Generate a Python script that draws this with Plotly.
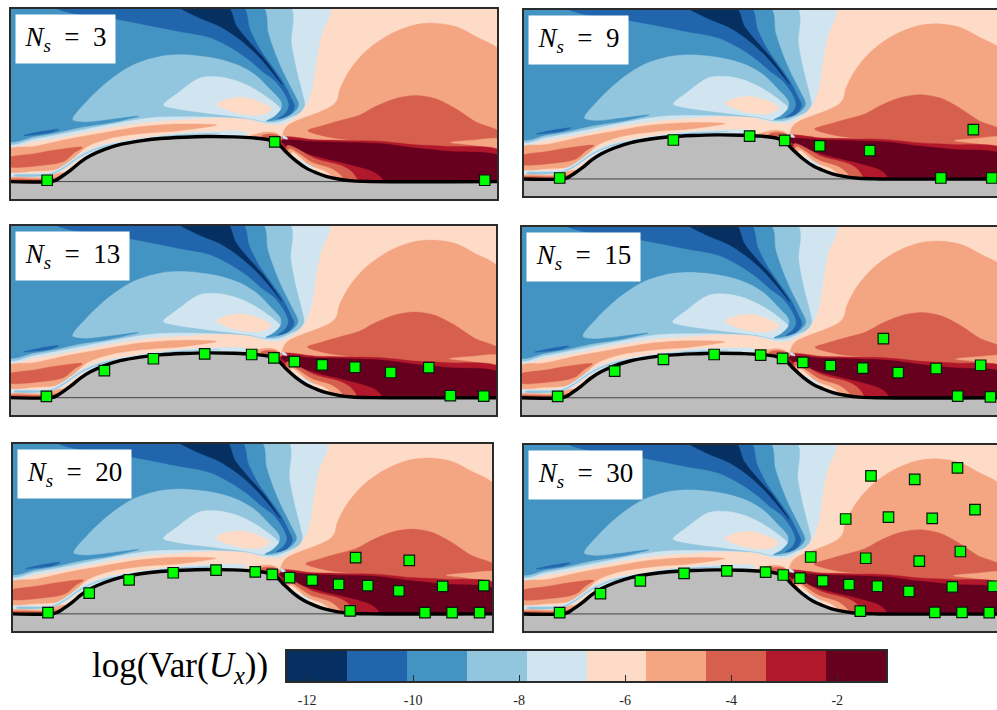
import plotly.graph_objects as go

WIDTH, HEIGHT = 997, 710
RdBu = ["#053061", "#2166ac", "#4393c3", "#92c5de", "#d1e5f0",
        "#fddbc7", "#f4a582", "#d6604d", "#b2182b", "#67001f"]

# iso-contour bands of log(Var(Ux)), painted back to front (stream units)
lvl_m7_outer = [(20,10),(990,10),(965,104),(950,184),(940,254),(925,304),(900,339),(855,369),(830,374),(800,372),(740,356),(650,352),(550,358),(450,365),(330,382),(200,408),(100,425),(20,437)]
lvl_m8_outer = [(20,10),(868,10),(875,125),(890,205),(910,285),(915,315),(900,338),(870,352),(835,365),(795,366),(745,356),(600,349),(450,352),(330,372),(200,398),(100,417),(20,430)]
lvl_m7_inner = [(490,314),(530,280),(600,232),(660,229),(720,244),(770,269),(820,304),(845,329),(840,346),(805,364),(745,354),(600,336),(520,324)]
lvl_m6_inner = [(650,312),(690,294),(740,292),(790,309),(815,326),(795,342),(740,344),(680,329)]
lvl_m9 = [(20,10),(785,10),(805,94),(825,154),(850,214),(880,274),(897,314),(885,334),(850,354),(800,363),(825,348),(845,325),(845,304),(810,264),(770,224),(720,194),(660,174),(600,164),(545,160),(480,165),(400,190),(330,235),(260,300),(215,358),(245,366),(300,362),(415,348),(330,368),(240,382),(170,398),(100,410),(20,422)]
lvl_m10 = [(150,10),(725,10),(750,84),(780,144),(815,194),(850,244),(875,294),(885,319),(870,344),(835,356),(858,338),(868,315),(855,280),(825,240),(790,214),(750,179),(700,144),(630,109),(530,89),(430,69),(340,52),(200,32)]
lvl_m11 = [(530,10),(680,10),(710,74),(750,124),(790,169),(820,209),(848,252),(810,205),(770,160),(720,115),(660,75),(600,50)]
lvl_m10_sliver = [(68,407),(120,395),(175,388),(150,398),(100,405)]
lvl_m5_front = [(20,450),(100,440),(200,418),(300,400),(420,380),(540,372),(650,375),(540,392),(430,400),(330,415),(260,440),(225,470),(190,500),(165,510),(100,515),(20,515)]
lvl_m4_front = [(20,477),(100,462),(170,450),(245,443),(220,460),(190,485),(120,498),(20,500)]
lvl_m7_wall = [(20,525),(100,522),(150,518),(190,497),(240,462),(300,437),(400,418),(520,402),(620,395),(740,398),(740,408),(620,408),(520,414),(400,428),(300,450),(240,476),(190,510),(150,530),(100,532),(20,533)]
lvl_m8_wall = [(40,527),(150,523),(190,503),(240,468),(300,442),(400,422),(520,406),(660,400),(520,409),(400,425),(300,445),(240,471),(190,506),(150,526),(40,530)]
lvl_m5_wake = [(855,388),(870,372),(900,358),(960,335),(1000,315),(1015,295),(1020,270),(1050,210),(1100,150),(1170,100),(1240,72),(1300,65),(1370,75),(1430,105),(1510,158),(1510,480),(850,425)]
lvl_m4_wake = [(925,392),(965,378),(1020,362),(1080,345),(1130,318),(1190,294),(1250,285),(1310,295),(1370,325),(1430,365),(1510,402),(1510,480),(1100,425),(990,412)]
lvl_m5_strip = [(1355,428),(1420,421),(1510,419),(1510,447),(1420,436)]
lvl_m3_wake = [(838,416),(950,420),(1050,422),(1150,425),(1250,435),(1350,440),(1510,456),(1510,560),(1100,560),(900,540)]
lvl_m2_wake = [(845,422),(950,425),(1050,428),(1150,432),(1250,445),(1350,455),(1510,474),(1510,560),(1152,560),(1150,540),(1125,518),(1050,495),(950,470),(860,438)]
lvl_m4_wedge = [(862,438),(950,478),(1030,500),(1060,520),(1078,560),(900,560)]
lvl_m5_wedge = [(868,448),(940,490),(1000,510),(1030,535),(1038,560),(900,560)]
lvl_m6_wedge = [(878,458),(930,498),(975,515),(1000,535),(1005,560),(900,560)]
lvl_m7_wedge = [(885,478),(915,490),(940,505),(900,510)]
lvl_m5_crest = [(745,412),(770,402),(800,396),(830,400),(848,418),(800,425)]
lvl_m4_crest = [(785,408),(810,402),(838,408),(845,420),(800,420)]
lvl_m7_crest = [(848,407),(860,411),(864,418),(850,415)]
lvl_m5_inlet = [(20,537),(120,535),(150,528),(185,520),(200,525),(170,555),(20,555)]
lvl_m4_inlet = [(20,542),(130,540),(165,535),(190,530),(175,548),(20,552)]

bands = [
    (lvl_m7_outer, RdBu[4]), (lvl_m8_outer, RdBu[3]), (lvl_m7_inner, RdBu[4]), (lvl_m6_inner, RdBu[5]),
    (lvl_m9, RdBu[2]), (lvl_m10, RdBu[1]), (lvl_m11, RdBu[0]), (lvl_m10_sliver, RdBu[1]),
    (lvl_m5_front, RdBu[6]), (lvl_m4_front, RdBu[7]), (lvl_m7_wall, RdBu[4]), (lvl_m8_wall, RdBu[3]),
    (lvl_m5_wake, RdBu[6]), (lvl_m4_wake, RdBu[7]), (lvl_m5_strip, RdBu[6]),
    (lvl_m3_wake, RdBu[8]), (lvl_m2_wake, RdBu[9]),
    (lvl_m4_wedge, RdBu[7]), (lvl_m5_wedge, RdBu[6]), (lvl_m6_wedge, RdBu[5]), (lvl_m7_wedge, RdBu[4]),
    (lvl_m5_crest, RdBu[6]), (lvl_m4_crest, RdBu[7]), (lvl_m7_crest, RdBu[4]),
    (lvl_m5_inlet, RdBu[6]), (lvl_m4_inlet, RdBu[7]),
]

# lower wall (hump) profile
wall_x = [30,150,165,185,210,240,270,310,360,420,480,550,620,700,760,810,835,860,890,920,950,980,1020,1060,1120,1500]
wall_y = [547,547,543,530,512,487,468,450,434,423,416,412,410,411,414,421,432,458,485,506,520,531,540,545,547,547]

# sensor locations per panel
sensors_3 = [(139,543),(825,426),(1458,543)]
sensors_9 = [(140,544),(490,426),(725,414),(833,427),(941,444),(1095,459),(1314,544),(1471,544),(1414,394)]
sensors_13 = [(137,543),(312,464),(460,428),(615,413),(757,415),(824,425),(886,437),(970,447),(1069,454),(1177,470),(1292,455),(1357,541),(1458,542)]
sensors_15 = [(139,543),(313,465),(462,429),(617,414),(759,416),(826,426),(888,438),(972,448),(1071,456),(1179,470),(1295,457),(1431,447),(1361,542),(1461,544),(1134,365)]
sensors_20 = [(137,543),(263,483),(385,442),(520,420),(651,412),(771,417),(823,425),(876,435),(945,443),(1026,456),(1115,460),(1210,476),(1344,462),(1470,460),(1061,538),(1290,543),(1373,543),(1457,543),(1078,373),(1242,382)]
sensors_30 = [(140,543),(266,484),(389,444),(524,421),(656,413),(776,417),(830,426),(882,436),(952,444),(1033,456),(1121,461),(1218,477),(1352,463),(1478,461),(1068,538),(1298,542),(1382,542),(1466,543),(915,370),(1085,374),(1250,383),(1377,353),(1023,252),(1155,246),(1290,250),(1422,223),(1101,118),(1236,129),(1368,93),(1496,52)]

panel_labels = ["3", "9", "13", "15", "20", "30"]
panel_sensors = [sensors_3, sensors_9, sensors_13, sensors_15, sensors_20, sensors_30]
# frame pixels: left, right, top, bottom
panel_boxes = [(11,497,9,199),(524,997,10,196),(11,496,226,415),(522,997,227,415),(13,492,444,631),(524,997,445,631)]
panel_xend = [1495,1487,1495,1481,1495,1490]
label_sizes = [(99,48),(99,48),(113,48),(113,48),(113,48),(113,48)]

cbar_edges_lo = -12.38
cbar_edges_hi = -1.08
cbar_centers = [-11.815,-10.685,-9.555,-8.425,-7.295,-6.165,-5.035,-3.905,-2.775,-1.645]
cbar_ticks = [-12,-10,-8,-6,-4,-2]
cbar_ticktext = ["-12","-10","-8","-6","-4","-2"]

FRAME = "#2b2b2b"
SERIF = "Liberation Serif"
fig = go.Figure()
layout = {}
annotations = []

for i,(box,label,sens,xend,lab) in enumerate(zip(panel_boxes,panel_labels,panel_sensors,panel_xend,label_sizes)):
    n = i+1
    xa, ya = f"x{n}", f"y{n}"
    L,R,T,B = box
    layout[f"xaxis{n}"] = dict(domain=[L/WIDTH,R/WIDTH], range=[30,xend], anchor=ya, showgrid=False,
                               zeroline=False, showticklabels=False, ticks="", showline=True, mirror=True,
                               linecolor=FRAME, linewidth=2.3)
    layout[f"yaxis{n}"] = dict(domain=[1-B/HEIGHT,1-T/HEIGHT], range=[600,22], anchor=xa, showgrid=False,
                               zeroline=False, showticklabels=False, ticks="", showline=True,
                               mirror=(i%2==0), linecolor=FRAME, linewidth=2.3)
    for pts,col in bands:
        fig.add_trace(go.Scatter(x=[p[0] for p in pts]+[pts[0][0]], y=[p[1] for p in pts]+[pts[0][1]],
                                 mode="lines", fill="toself", fillcolor=col,
                                 line=dict(color=col,width=0.4,shape="spline",smoothing=0.9),
                                 hoverinfo="skip", showlegend=False, xaxis=xa, yaxis=ya))
    fig.add_trace(go.Scatter(x=wall_x+[1510,1510,20,20], y=wall_y+[547,620,620,547], mode="lines", fill="toself",
                             fillcolor="#bdbdbd", line=dict(color="#bdbdbd",width=0),
                             hoverinfo="skip", showlegend=False, xaxis=xa, yaxis=ya))
    fig.add_trace(go.Scatter(x=[30,1500], y=[547,547], mode="lines", line=dict(color="#444444",width=1),
                             hoverinfo="skip", showlegend=False, xaxis=xa, yaxis=ya))
    fig.add_trace(go.Scatter(x=wall_x, y=wall_y, mode="lines", line=dict(color="black",width=3.4,shape="spline",smoothing=1.0),
                             hoverinfo="skip", showlegend=False, xaxis=xa, yaxis=ya))
    fig.add_trace(go.Scatter(x=[p[0] for p in sens], y=[p[1] for p in sens], mode="markers", cliponaxis=False,
                             marker=dict(symbol="square",size=10.5,color="#00ff00",line=dict(color="#0a160a",width=1.2)),
                             hoverinfo="skip", showlegend=False, xaxis=xa, yaxis=ya))
    annotations.append(dict(xref=f"x{n}", yref=f"y{n}", x=42, y=36, xanchor="left", yanchor="top",
                            text=f"<i>N</i><sub><i>s</i></sub>\u2002=\u2002{label}", showarrow=False,
                            bgcolor="white", width=lab[0], height=lab[1], align="center", valign="middle",
                            borderpad=0, font=dict(family=SERIF,size=27,color="black")))

# colour bar
fig.add_trace(go.Heatmap(x=cbar_centers, y=[0], z=[cbar_centers], xaxis="x7", yaxis="y7", showscale=False,
                         zmin=cbar_centers[0], zmax=cbar_centers[-1], hoverinfo="skip",
                         colorscale=[[k/9,c] for k,c in enumerate(RdBu)]))
layout["xaxis7"] = dict(domain=[287/WIDTH,886/WIDTH], range=[cbar_edges_lo,cbar_edges_hi], anchor="y7", showgrid=False,
                        zeroline=False, tickvals=cbar_ticks, ticktext=cbar_ticktext, ticks="inside", ticklen=6,
                        tickcolor=FRAME, tickwidth=1, showline=True, mirror=True, linecolor=FRAME, linewidth=2,
                        tickfont=dict(family=SERIF,size=14,color="#222222"), ticklabelstandoff=5)
layout["yaxis7"] = dict(domain=[1-681/HEIGHT,1-651/HEIGHT], range=[-0.5,0.5], anchor="x7", showgrid=False,
                        zeroline=False, showticklabels=False, ticks="", showline=True, mirror=True,
                        linecolor=FRAME, linewidth=2)
annotations.append(dict(xref="paper", yref="paper", x=270/WIDTH, y=1-667/HEIGHT, xanchor="right", yanchor="middle",
                        text="log(Var(<i>U</i><sub><i>x</i></sub>))", showarrow=False,
                        font=dict(family=SERIF,size=35,color="black")))

fig.update_layout(width=WIDTH, height=HEIGHT, margin=dict(l=0,r=0,t=0,b=0), paper_bgcolor="white",
                  plot_bgcolor="#fddbc7", showlegend=False, annotations=annotations, **layout)
fig.write_html("out.html", config={"displayModeBar":False},
               post_script="document.body.style.margin='0';document.body.style.overflow='hidden';")
